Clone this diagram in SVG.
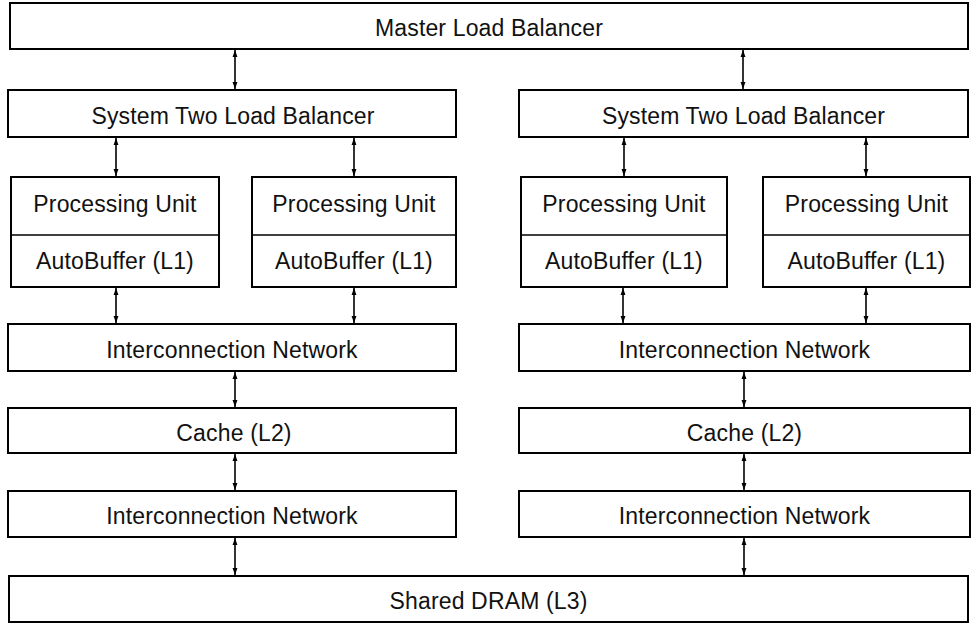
<svg xmlns="http://www.w3.org/2000/svg" width="976" height="624" viewBox="0 0 976 624">
  <defs>
    <marker id="tip" viewBox="0 0 8 8" refX="8" refY="4" markerWidth="7" markerHeight="7" markerUnits="userSpaceOnUse" orient="auto-start-reverse">
      <path d="M0,1.2 L8,4 L0,6.8 Z" fill="#000"/>
    </marker>
  </defs>
  <style>
    .box { fill: #fff; stroke: #000; stroke-width: 2; }
    .div { stroke: #000; stroke-width: 1.5; }
    .lbl { font-family: "Liberation Sans", Arial, sans-serif; font-size: 23px; letter-spacing: 0.15px; fill: #111; text-anchor: middle; }
    .link { stroke: #000; stroke-width: 1.6; fill: none; marker-start: url(#tip); marker-end: url(#tip); }
  </style>
  <rect width="976" height="624" fill="#fff"/>

  <g id="connectors">
    <!-- master to system balancers -->
    <line class="link" x1="235" y1="50" x2="235" y2="89"/>
    <line class="link" x1="743" y1="50" x2="743" y2="89"/>
    <!-- system balancers to processing units -->
    <line class="link" x1="116" y1="138" x2="116" y2="176"/>
    <line class="link" x1="354" y1="138" x2="354" y2="176"/>
    <line class="link" x1="624" y1="138" x2="624" y2="176"/>
    <line class="link" x1="866" y1="138" x2="866" y2="176"/>
    <!-- autobuffers to interconnection networks -->
    <line class="link" x1="116" y1="288" x2="116" y2="323"/>
    <line class="link" x1="354" y1="288" x2="354" y2="323"/>
    <line class="link" x1="623" y1="288" x2="623" y2="323"/>
    <line class="link" x1="866" y1="288" x2="866" y2="323"/>
    <!-- network to cache -->
    <line class="link" x1="235" y1="372" x2="235" y2="407"/>
    <line class="link" x1="744" y1="372" x2="744" y2="407"/>
    <!-- cache to network -->
    <line class="link" x1="235" y1="454" x2="235" y2="490"/>
    <line class="link" x1="744" y1="454" x2="744" y2="490"/>
    <!-- network to shared DRAM -->
    <line class="link" x1="235" y1="538" x2="235" y2="575"/>
    <line class="link" x1="744" y1="538" x2="744" y2="575"/>
  </g>

  <g id="master-lb">
    <rect class="box" x="10" y="3" width="958" height="46"/>
    <text class="lbl" x="489" y="36">Master Load Balancer</text>
  </g>

  <g id="sys-lb-left">
    <rect class="box" x="8" y="90" width="448" height="47"/>
    <text class="lbl" x="233" y="124">System Two Load Balancer</text>
  </g>
  <g id="sys-lb-right">
    <rect class="box" x="519" y="90" width="449" height="47"/>
    <text class="lbl" x="743.5" y="124">System Two Load Balancer</text>
  </g>

  <g id="pu-1">
    <rect class="box" x="11" y="177" width="208" height="110"/>
    <line class="div" x1="11" y1="235" x2="219" y2="235"/>
    <text class="lbl" x="115" y="212">Processing Unit</text>
    <text class="lbl" x="115" y="269">AutoBuffer (L1)</text>
  </g>
  <g id="pu-2">
    <rect class="box" x="252" y="177" width="204" height="110"/>
    <line class="div" x1="252" y1="235" x2="456" y2="235"/>
    <text class="lbl" x="354" y="212">Processing Unit</text>
    <text class="lbl" x="354" y="269">AutoBuffer (L1)</text>
  </g>
  <g id="pu-3">
    <rect class="box" x="521" y="177" width="206" height="110"/>
    <line class="div" x1="521" y1="235" x2="727" y2="235"/>
    <text class="lbl" x="624" y="212">Processing Unit</text>
    <text class="lbl" x="624" y="269">AutoBuffer (L1)</text>
  </g>
  <g id="pu-4">
    <rect class="box" x="763" y="177" width="207" height="110"/>
    <line class="div" x1="763" y1="235" x2="970" y2="235"/>
    <text class="lbl" x="866.5" y="212">Processing Unit</text>
    <text class="lbl" x="866.5" y="269">AutoBuffer (L1)</text>
  </g>

  <g id="net-upper-left">
    <rect class="box" x="8" y="324" width="448" height="47"/>
    <text class="lbl" x="232" y="358">Interconnection Network</text>
  </g>
  <g id="net-upper-right">
    <rect class="box" x="519" y="324" width="451" height="47"/>
    <text class="lbl" x="744.5" y="358">Interconnection Network</text>
  </g>

  <g id="cache-left">
    <rect class="box" x="8" y="408" width="448" height="45"/>
    <text class="lbl" x="234" y="441">Cache (L2)</text>
  </g>
  <g id="cache-right">
    <rect class="box" x="519" y="408" width="451" height="45"/>
    <text class="lbl" x="744.5" y="441">Cache (L2)</text>
  </g>

  <g id="net-lower-left">
    <rect class="box" x="8" y="491" width="448" height="46"/>
    <text class="lbl" x="232" y="524">Interconnection Network</text>
  </g>
  <g id="net-lower-right">
    <rect class="box" x="519" y="491" width="451" height="46"/>
    <text class="lbl" x="744.5" y="524">Interconnection Network</text>
  </g>

  <g id="shared-dram">
    <rect class="box" x="9" y="576" width="959" height="46"/>
    <text class="lbl" x="488.5" y="609">Shared DRAM (L3)</text>
  </g>
</svg>
